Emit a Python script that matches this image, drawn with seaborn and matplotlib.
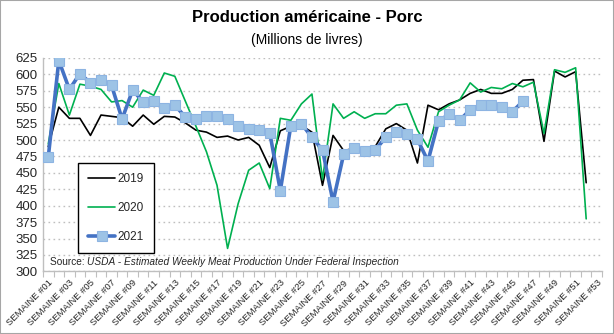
import numpy as np
import pandas as pd
import matplotlib
matplotlib.use("Agg")
import matplotlib.pyplot as plt
import seaborn as sns
from matplotlib.patches import Rectangle

# ---------------- data ----------------
weeks = [f"SEMAINE #{i:02d}" for i in range(1, 54)]
years = ["2019", "2020", "2021"]
yticks = list(range(300, 626, 25))

prod_2019 = [490, 550, 533, 533, 507, 538, 536, 534, 521, 538,
             524, 536, 535, 526, 515, 512, 504, 506, 500, 504,
             492, 458, 514, 521, 522, 512, 431, 507, 484, 487,
             484, 490, 517, 525, 515, 465, 553, 546, 555, 561,
             571, 577, 571, 571, 577, 591, 592, 498, 605, 596,
             604, 435, np.nan]
prod_2020 = [494, 586, 538, 585, 582, 577, 558, 560, 550, 576,
             568, 602, 597, 559, 521, 482, 431, 335, 403, 454,
             465, 426, 533, 530, 555, 570, 440, 555, 533, 543,
             533, 540, 540, 553, 555, 515, 489, 543, 553, 561,
             587, 573, 580, 578, 586, 581, 588, 510, 607, 603,
             610, 380, np.nan]
prod_2021 = [474, 621, 577, 601, 587, 591, 583, 532, 576, 558,
             559, 548, 553, 535, 532, 536, 537, 532, 522, 517,
             516, 511, 423, 522, 525, 504, 485, 406, 478, 488,
             483, 485, 504, 512, 509, 501, 468, 529, 539, 530,
             546, 554, 553, 551, 543, 559] + [np.nan] * 7

df = pd.DataFrame({"idx": np.arange(len(weeks)), "week": weeks,
                   "2019": prod_2019, "2020": prod_2020, "2021": prod_2021})

# ---------------- style ----------------
sns.set_theme(style="white")
plt.rcParams["font.family"] = ["Liberation Sans", "DejaVu Sans"]

W, H = 614, 334
fig = plt.figure(figsize=(W / 100, H / 100), dpi=100)
ax = fig.add_axes([43 / W, 1 - 271.4 / H, 559 / W, 213.5 / H])

sns.lineplot(data=df, x="idx", y="2019", color="black", lw=1.2,
             label="2019", ax=ax, zorder=3)
sns.lineplot(data=df, x="idx", y="2020", color="#00B050", lw=1.2,
             label="2020", ax=ax, zorder=3)
sns.lineplot(data=df, x="idx", y="2021", color="#4472C4", lw=2.6,
             marker="s", markersize=7, markerfacecolor="#9DC3E6",
             markeredgecolor="#8DB4E2", markeredgewidth=0.8,
             label="2021", ax=ax, zorder=4)

ax.set_xlim(-0.5, len(weeks) - 0.5)
ax.set_ylim(300, 625)
ax.set_yticks(yticks)
ax.set_yticklabels([str(v) for v in yticks], fontsize=9.5, color="#262626")
ax.set_xticks(np.arange(0, len(weeks), 2))
ax.set_xticklabels(weeks[::2], rotation=45, ha="right",
                   rotation_mode="anchor", fontsize=6.8, color="#262626")
ax.set_xticks(np.arange(-0.5, len(weeks), 1), minor=True)
ax.tick_params(axis="x", which="major", length=0, pad=5)
ax.tick_params(axis="x", which="minor", length=4, color="#BFBFBF",
               width=0.8, direction="out", bottom=True)
ax.tick_params(axis="y", length=0, pad=4)
ax.set_xlabel("")
ax.set_ylabel("")

ax.yaxis.grid(True, linestyle=(0, (1.2, 2.4)), color="#BFBFBF", lw=1)
ax.xaxis.grid(False)
for s in ["top", "right"]:
    ax.spines[s].set_visible(False)
for s in ["left", "bottom"]:
    ax.spines[s].set_color("#BFBFBF")
    ax.spines[s].set_linewidth(1)

leg = ax.legend(loc="upper left", bbox_to_anchor=(0.0626, 0.5077),
                borderaxespad=0, frameon=True, fancybox=False,
                edgecolor="black", fontsize=8.5, handlelength=2.3,
                labelspacing=1.45, borderpad=0.85, framealpha=1,
                handletextpad=0.2)
leg.get_frame().set_linewidth(1)

# source text: "Source: " regular + rest italic
t1 = ax.text(0.0125, 0.044, "Source: ", transform=ax.transAxes,
             fontsize=7.3, va="center", ha="left", color="#262626")
ax.annotate("USDA - Estimated Weekly Meat Production Under Federal Inspection",
            xy=(1, 0.5), xycoords=t1, va="center", ha="left",
            fontsize=7.3, style="italic", color="#262626")

fig.text(0.5, 1 - 18 / H, "Production américaine - Porc", ha="center",
         va="center", fontsize=12, fontweight="bold", color="black")
fig.text(0.5, 1 - 40 / H, "(Millions de livres)", ha="center",
         va="center", fontsize=10, color="black")

fig.add_artist(Rectangle((0, 0), 1, 1, transform=fig.transFigure,
                         fill=False, edgecolor="#A6A6A6", lw=1.5))

fig.savefig("out.png", dpi=100)
